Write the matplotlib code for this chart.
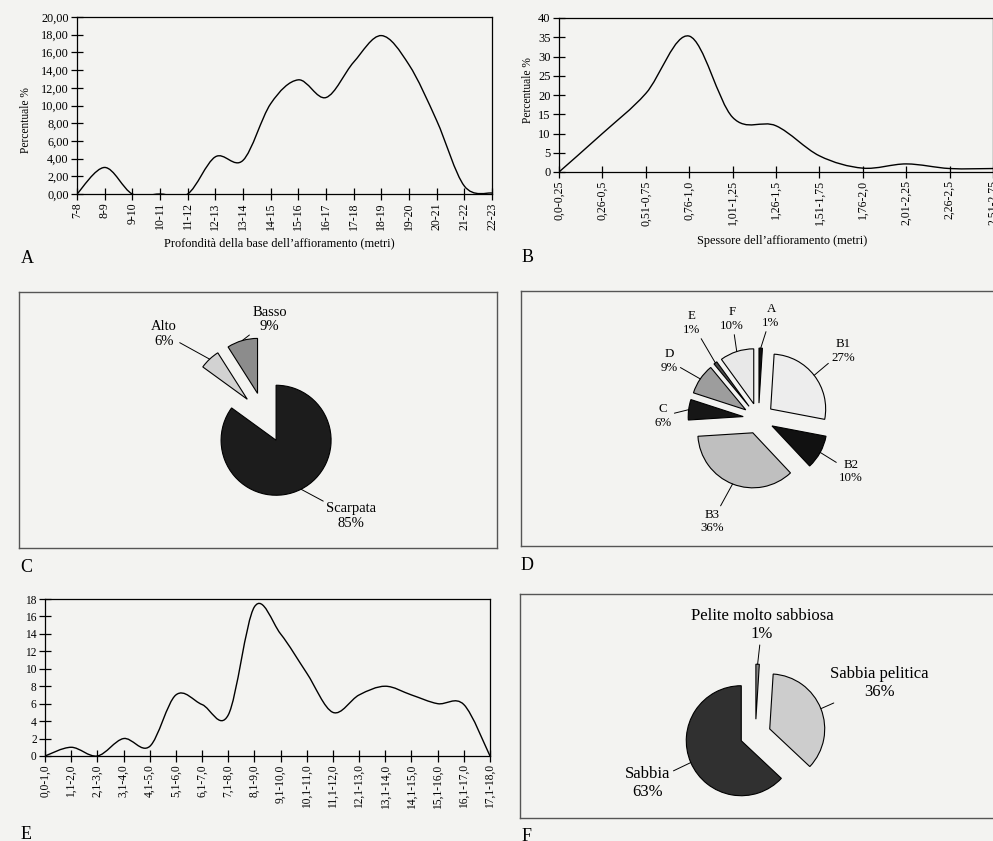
import numpy as np
import matplotlib
matplotlib.use('Agg')
import matplotlib.pyplot as plt
from matplotlib.path import Path
from matplotlib.patches import PathPatch

W, H = 993, 841
plt.rcParams['font.family'] = ['Liberation Serif', 'DejaVu Serif']

# ---------------- data ----------------
a_categories = ['7-8', '8-9', '9-10', '10-11', '11-12', '12-13', '13-14', '14-15',
                '15-16', '16-17', '17-18', '18-19', '19-20', '20-21', '21-22', '22-23']
a_values = [0, 3.0, 0, 0, 0, 4.2, 3.8, 10.2, 12.9, 10.9, 14.9, 17.9, 14.6, 8.3, 0.9, 0.1]

b_categories = ['0,0-0,25', '0,26-0,5', '0,51-0,75', '0,76-1,0', '1,01-1,25', '1,26-1,5',
                '1,51-1,75', '1,76-2,0', '2,01-2,25', '2,26-2,5', '2,51-2,75']
b_values = [0, 10.0, 20.4, 35.3, 14.2, 12.0, 4.2, 1.0, 2.1, 0.9, 0.9]

e_categories = ['0,0-1,0', '1,1-2,0', '2,1-3,0', '3,1-4,0', '4,1-5,0', '5,1-6,0',
                '6,1-7,0', '7,1-8,0', '8,1-9,0', '9,1-10,0', '10,1-11,0', '11,1-12,0',
                '12,1-13,0', '13,1-14,0', '14,1-15,0', '15,1-16,0', '16,1-17,0', '17,1-18,0']
e_values = [0, 1.0, 0, 2.0, 1.1, 7.0, 5.9, 4.7, 17.1, 14.0, 9.5, 5.0, 7.0, 8.0, 7.0, 6.0, 5.9, 0]

c_labels = ['Scarpata\n85%', 'Alto\n6%', 'Basso\n9%']
c_values = [85, 6, 9]
c_colors = ['#1c1c1c', '#d2d2d2', '#8c8c8c']

d_labels = ['A\n1%', 'B1\n27%', 'B2\n10%', 'B3\n36%', 'C\n6%', 'D\n9%', 'E\n1%', 'F\n10%']
d_values = [1, 27, 10, 36, 6, 9, 1, 10]
d_colors = ['#111111', '#ededed', '#111111', '#bfbfbf', '#161616', '#9d9d9d', '#4a4a4a', '#e8e8e8']

f_labels = ['Pelite molto sabbiosa\n1%', 'Sabbia pelitica\n36%', 'Sabbia\n63%']
f_values = [1, 36, 63]
f_colors = ['#8a8a8a', '#cdcdcd', '#303030']

BG = '#f3f3f1'
fig = plt.figure(figsize=(W / 100, H / 100), dpi=100, facecolor=BG)


def smooth_path(xs, ys):
    pts = np.column_stack([xs, ys]).astype(float)
    n = len(pts)
    verts = [pts[0]]
    codes = [Path.MOVETO]
    for i in range(n - 1):
        p0 = pts[i - 1] if i > 0 else pts[i]
        p1 = pts[i]
        p2 = pts[i + 1]
        p3 = pts[i + 2] if i + 2 < n else pts[i + 1]
        c1 = p1 + (p2 - p0) / 6.0
        c2 = p2 - (p3 - p1) / 6.0
        verts += [c1, c2, p2]
        codes += [Path.CURVE4] * 3
    return Path(verts, codes)


def px_axes(x0, y0, x1, y1):
    return fig.add_axes([x0 / W, 1 - y1 / H, (x1 - x0) / W, (y1 - y0) / H])


def line_panel(rect, cats, vals, ymax, ystep, yfmt, xfs, yfs):
    ax = px_axes(*rect)
    ax.set_facecolor('none')
    x = np.arange(len(cats))
    ax.add_patch(PathPatch(smooth_path(x, vals), fill=False, ec='black', lw=1.0))
    ax.set_xlim(0, len(cats) - 1)
    ax.set_ylim(0, ymax)
    ax.set_xticks(x)
    ax.set_xticklabels(cats, rotation=90, fontsize=xfs)
    yt = np.arange(0, ymax + 1e-9, ystep)
    ax.set_yticks(yt)
    ax.set_yticklabels([yfmt(v) for v in yt], fontsize=yfs)
    ax.tick_params(direction='inout', length=8, width=0.9, pad=2, colors='black')
    for s in ax.spines.values():
        s.set_linewidth(0.9)
    return ax


axA = line_panel((77, 17, 492, 194), a_categories, a_values, 20, 2,
                 lambda v: f"{v:.2f}".replace('.', ','), 8.5, 8.8)
fig.text(26 / W, 1 - 120 / H, 'Percentuale %', rotation=90, ha='center', va='center', fontsize=8.3)
fig.text(279.5 / W, 1 - 243 / H, "Profondità della base dell’affioramento (metri)",
         ha='center', va='center', fontsize=8.8)

axB = line_panel((559, 18, 993, 172), b_categories, b_values, 40, 5,
                 lambda v: f"{int(v)}", 8.5, 9)
fig.text(528 / W, 1 - 90 / H, 'Percentuale %', rotation=90, ha='center', va='center', fontsize=8.3)
fig.text(781.7 / W, 1 - 241 / H, "Spessore dell’affioramento (metri)",
         ha='center', va='center', fontsize=8.8)

axE = line_panel((45, 599, 490, 756), e_categories, e_values, 18, 2,
                 lambda v: f"{int(v)}", 8.3, 8.3)


def pie_panel(box, values, colors, center, radius, explode_frac, labels, label_pos, fs):
    x0, y0, x1, y1 = box
    ax = px_axes(x0, y0, x1, y1)
    ax.set_facecolor('none')
    cx, cy = center
    wedges, _ = ax.pie(values, explode=[explode_frac * radius] * len(values), colors=colors,
                       startangle=90, counterclock=False, radius=radius,
                       center=(cx, H - cy), frame=True,
                       wedgeprops=dict(edgecolor='black', linewidth=0.8))
    ax.set_xlim(x0, x1)
    ax.set_ylim(H - y1, H - y0)
    ax.set_aspect('auto')
    ax.set_xticks([])
    ax.set_yticks([])
    for sp in ax.spines.values():
        sp.set_color('#555555')
        sp.set_linewidth(1.0)
    for w, txt, (lx, ly) in zip(wedges, labels, label_pos):
        ang = np.deg2rad((w.theta1 + w.theta2) / 2.0)
        wc = w.center
        xy = (wc[0] + radius * np.cos(ang), wc[1] + radius * np.sin(ang))
        ax.annotate(txt, xy=xy, xytext=(lx, H - ly), ha='center', va='center',
                    fontsize=fs, linespacing=1.2,
                    arrowprops=dict(arrowstyle='-', lw=0.7, color='black',
                                    shrinkA=0, shrinkB=0))
    return ax


pie_panel((19, 292, 497, 548), c_values, c_colors, (264.6, 417.7), 55, 0.46,
          c_labels, [(351, 516), (164, 334), (269.5, 319.5)], 10.5)
pie_panel((521, 291, 996, 546), d_values, d_colors, (758.5, 418.5), 55, 0.28,
          d_labels, [(771, 316), (843, 351), (851, 471.5), (712, 521.5), (663, 416),
                     (669, 361), (692, 323), (732, 319)], 9.3)
pie_panel((520, 594, 996, 818), f_values, f_colors, (755.4, 734.6), 55, 0.28,
          f_labels, [(762, 625), (879, 683), (648, 783)], 12)

for letter, x, yb in [('A', 21, 263), ('B', 522, 262), ('C', 20, 572), ('D', 521, 570),
                      ('E', 21, 839), ('F', 522, 841)]:
    fig.text(x / W, 1 - yb / H, letter, ha='left', va='baseline', fontsize=13)

fig.savefig('out.png', dpi=100, facecolor=BG)
